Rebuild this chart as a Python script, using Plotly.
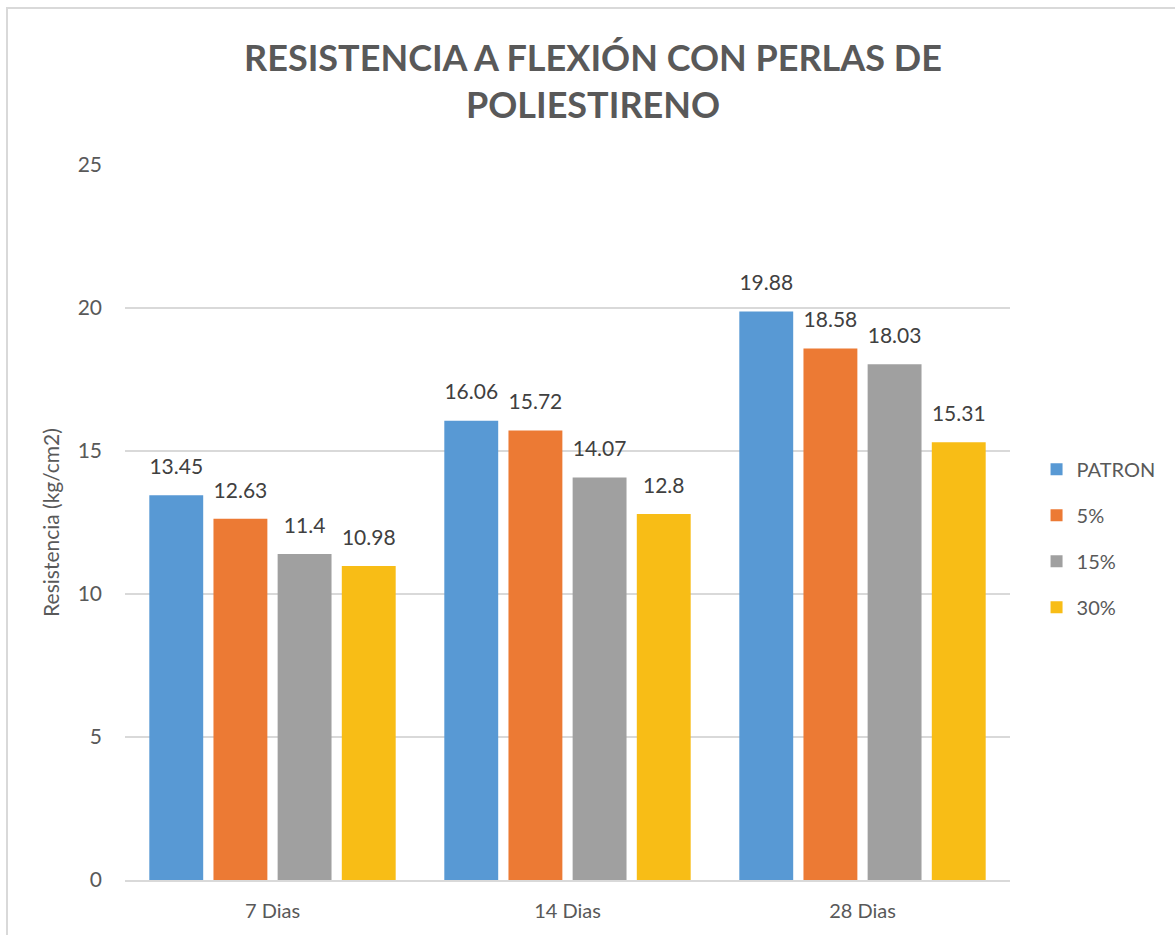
import plotly.graph_objects as go

# Flexural strength of concrete with polystyrene beads
categorias = ["7 Dias", "14 Dias", "28 Dias"]
series = ["PATRON", "5%", "15%", "30%"]
patron = [13.45, 16.06, 19.88]
p5 = [12.63, 15.72, 18.58]
p15 = [11.4, 14.07, 18.03]
p30 = [10.98, 12.8, 15.31]
valores = [patron, p5, p15, p30]
colores = ["#5899D4", "#EC7A34", "#A0A0A0", "#F8BD16"]
y_ticks = [0, 5, 10, 15, 20, 25]

FONT = "Lato"
GRIS = "#595959"

fig = go.Figure()
for nombre, vals, col in zip(series, valores, colores):
    fig.add_trace(go.Bar(
        x=categorias,
        y=vals,
        name=nombre,
        legendgroup=nombre,
        marker=dict(color=col, line=dict(width=0)),
    ))

# value labels: invisible markers lift the text a little above each bar
for nombre, vals in zip(series, valores):
    fig.add_trace(go.Scatter(
        x=categorias,
        y=vals,
        mode="markers+text",
        marker=dict(size=24, opacity=0),
        text=[f"{v:g}" for v in vals],
        textposition="top center",
        textfont=dict(family=FONT, size=21, color="#404040"),
        showlegend=False,
        hoverinfo="skip",
        cliponaxis=False,
    ))

fig.update_layout(
    width=1175,
    height=935,
    paper_bgcolor="white",
    plot_bgcolor="white",
    margin=dict(l=125, r=165, t=165, b=55, autoexpand=False),
    barmode="group",
    scattermode="group",
    bargap=0.13,
    bargroupgap=0.16,
    title=dict(
        text="<b>RESISTENCIA A FLEXIÓN CON PERLAS DE<br>POLIESTIRENO</b>",
        x=593 / 1175,
        xanchor="center",
        y=1 - 71 / 935,
        yanchor="top",
        font=dict(family=FONT, size=36, color=GRIS),
    ),
    legend=dict(
        x=1.03,
        xanchor="left",
        y=0.478,
        yanchor="middle",
        font=dict(family=FONT, size=20, color=GRIS),
        tracegroupgap=17,
        itemwidth=30,
    ),
    font=dict(family=FONT, color=GRIS),
    xaxis=dict(
        showgrid=False,
        showline=True,
        linecolor="#D9D9D9",
        linewidth=2,
        ticks="",
        tickfont=dict(family=FONT, size=20, color=GRIS),
        ticklabelstandoff=12,
    ),
    yaxis=dict(
        range=[0, 25],
        tickvals=y_ticks,
        showgrid=True,
        gridcolor="#D9D9D9",
        gridwidth=1.5,
        zeroline=False,
        showline=False,
        ticks="",
        tickfont=dict(family=FONT, size=21, color=GRIS),
        ticklabelstandoff=22,
        title=dict(
            text="Resistencia (kg/cm2)",
            font=dict(family=FONT, size=21, color=GRIS),
            standoff=12,
        ),
    ),
    shapes=[
        dict(type="rect", xref="paper", yref="paper",
             x0=(7 - 125) / 885, x1=(1200 - 125) / 885,
             y0=-0.3, y1=(935 - 8 - 55) / 715,
             line=dict(color="#D9D9D9", width=2), fillcolor="rgba(0,0,0,0)",
             layer="below"),
    ],
)

fig.write_html("out.html")
